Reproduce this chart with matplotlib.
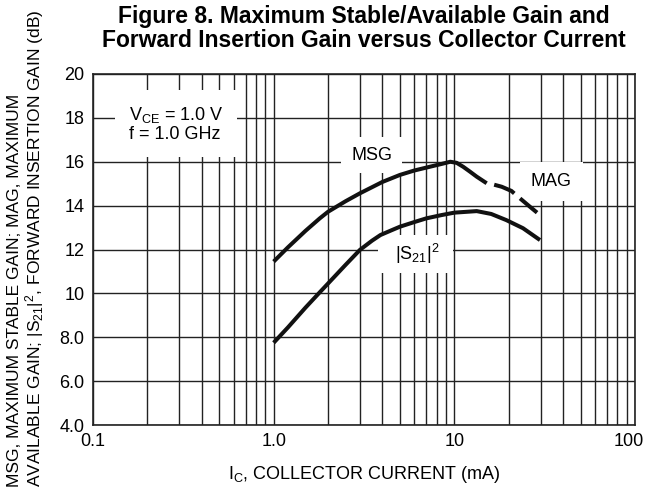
import matplotlib
matplotlib.use("Agg")
import matplotlib.pyplot as plt
import matplotlib.transforms as mtransforms
from matplotlib.ticker import FixedLocator, LogLocator, NullFormatter

plt.rcParams["font.family"] = ["Liberation Sans", "DejaVu Sans"]

# data (IC in mA, gain in dB)
ic_msg = [1.0, 1.2, 1.5, 1.8, 2.0, 2.5, 3.0, 4.0, 5.0, 6.0, 7.3, 8.5, 9.5, 10.3, 11.2, 12.2, 13.3, 15.1]
msg_db = [11.45, 12.1, 12.85, 13.42, 13.72, 14.2, 14.56, 15.08, 15.4, 15.6, 15.77, 15.9, 16.0, 15.95, 15.77, 15.55, 15.32, 15.02]

ic_mag = [15.1, 16.5, 18.3, 20.7, 23.1, 26.2, 29.8]
mag_db = [15.02, 14.96, 14.86, 14.67, 14.33, 13.95, 13.57]

ic_s21 = [1.0, 1.2, 1.5, 1.8, 2.0, 2.5, 3.0, 3.5, 3.9, 4.5, 5.0, 6.0, 7.0, 8.5, 10.0, 13.3, 16.0, 19.4, 24.0, 29.8]
s21_db = [7.75, 8.45, 9.35, 10.05, 10.45, 11.3, 11.98, 12.4, 12.66, 12.88, 13.04, 13.25, 13.42, 13.57, 13.68, 13.75, 13.62, 13.34, 12.97, 12.43]

y_ticks = [4, 6, 8, 10, 12, 14, 16, 18, 20]
y_tick_labels = ["4.0", "6.0", "8.0", "10", "12", "14", "16", "18", "20"]
x_ticks = [0.1, 1.0, 10, 100]
x_tick_labels = ["0.1", "1.0", "10", "100"]

fig = plt.figure(figsize=(6.45, 4.97), dpi=100)
ax = fig.add_axes([93 / 645, 1 - 425 / 497, (635 - 93) / 645, (425 - 74) / 497])

ax.set_xscale("log")
ax.set_xlim(0.1, 100)
ax.set_ylim(4, 20)

ax.xaxis.set_major_locator(FixedLocator(x_ticks))
ax.xaxis.set_minor_locator(LogLocator(base=10, subs=range(2, 10)))
ax.xaxis.set_minor_formatter(NullFormatter())
ax.set_xticks(x_ticks)
ax.set_xticklabels(x_tick_labels)
ax.set_yticks(y_ticks)
ax.set_yticklabels(y_tick_labels)

ax.grid(True, which="both", axis="x", color="#222222", linewidth=1.0)
ax.grid(True, which="major", axis="y", color="#222222", linewidth=1.0)
ax.tick_params(which="both", length=0, labelsize=13, pad=6)
for s in ax.spines.values():
    s.set_color("#222222")
    s.set_linewidth(1.2)

# last x label sits against the right edge in the reference
last = ax.get_xticklabels()[-1]
last.set_transform(last.get_transform() + mtransforms.ScaledTranslation(-6 / 100, 0, fig.dpi_scale_trans))

ax.plot(ic_msg, msg_db, color="#111111", linewidth=2.9, solid_capstyle="butt", zorder=5)
ax.plot(ic_mag, mag_db, color="#111111", linewidth=2.9, linestyle=(5.5, (5.5, 1.9)),
        dash_capstyle="butt", zorder=5)
ax.plot(ic_s21, s21_db, color="#111111", linewidth=2.9, solid_capstyle="butt", zorder=5)

ax.text(0.158, 17.72, "$\\mathregular{V_{CE}}$ = 1.0 V\nf = 1.0 GHz", fontsize=13,
        ha="left", va="center", linespacing=1.1,
        bbox=dict(facecolor="white", edgecolor="none", pad=10), zorder=4)
ax.text(3.48, 16.3, "MSG", fontsize=13, ha="center", va="center",
        bbox=dict(facecolor="white", edgecolor="none", pad=7), zorder=4)
ax.text(34.5, 15.09, "MAG", fontsize=13, ha="center", va="center",
        bbox=dict(facecolor="white", edgecolor="none", pad=8), zorder=4)
ax.text(6.1, 11.78, "  $\\mathregular{|S_{21}|^2}$  ", fontsize=13, ha="center", va="center",
        bbox=dict(facecolor="white", edgecolor="none", pad=5), zorder=4)

ax.set_xlabel("$\\mathregular{I_C}$, COLLECTOR CURRENT (mA)", fontsize=13, labelpad=10)

fig.text(0.041, 0.5, "MSG, MAXIMUM STABLE GAIN; MAG, MAXIMUM\n"
         "AVAILABLE GAIN; $\\mathregular{|S_{21}|^2}$, FORWARD INSERTION GAIN (dB)",
         rotation=90, ha="center", va="center", fontsize=12.5, multialignment="left",
         linespacing=1.1)

fig.text(0.564, 0.942, "Figure 8. Maximum Stable/Available Gain and\n"
         "Forward Insertion Gain versus Collector Current",
         ha="center", va="center", fontsize=16.5, fontweight="bold", linespacing=1.05)

fig.savefig("out.png", dpi=100)
plt.close(fig)
